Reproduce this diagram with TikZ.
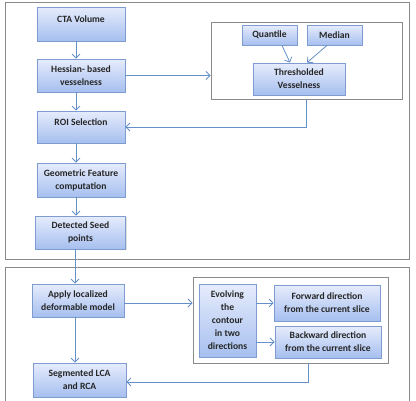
\documentclass[tikz,border=0pt]{standalone}
\usepackage{fontspec}
\setmainfont{Carlito}
\usetikzlibrary{arrows.meta,shadows}
\definecolor{boxtop}{HTML}{E6ECFC}
\definecolor{boxbot}{HTML}{A6BFEF}
\definecolor{boxline}{HTML}{7E9CCF}
\definecolor{arrcol}{HTML}{6690C8}
\definecolor{framecol}{HTML}{8A8A8A}
\tikzset{
  box/.style={draw=boxline, line width=0.8pt, top color=boxtop, bottom color=boxbot,
    font=\fontsize{9.6}{13}\selectfont\bfseries, text=black!85, align=center,
    inner sep=0pt, drop shadow={shadow xshift=1pt, shadow yshift=-1pt, opacity=0.25}},
  upper/.style={text depth=10pt},
  frame/.style={draw=framecol, line width=0.9pt, fill=white, inner sep=0pt,
    drop shadow={shadow xshift=1.2pt, shadow yshift=-1.2pt, opacity=0.3}},
  outer/.style={draw=framecol, line width=0.9pt, inner sep=0pt},
  arr/.style={draw=arrcol, line width=0.8pt, -{Straight Barb[length=4pt,width=8pt]}},
  ln/.style={draw=arrcol, line width=0.8pt}
}
\begin{document}
\begin{tikzpicture}[x=1pt,y=-1pt]
\useasboundingbox (0,0) rectangle (416,400);
% outer frames
\node[outer, minimum width=404, minimum height=257] (top) at (207,130.5) {};
\node[outer, minimum width=404, minimum height=135] (bot) at (207,334.5) {};
% inner frames
\node[frame, minimum width=191, minimum height=77] (tf) at (306.5,60.5) {};
\node[frame, minimum width=195, minimum height=86] (bf) at (290.5,320) {};
% main column
\node[box, upper, minimum width=88, minimum height=34] (cta) at (81,24) {CTA Volume};
\node[box, minimum width=88, minimum height=33] (hess) at (81,75.5) {Hessian- based\\vesselness};
\node[box, upper, minimum width=88, minimum height=32] (roi) at (81,127) {ROI Selection};
\node[box, minimum width=88, minimum height=34] (geo) at (81,180) {Geometric Feature\\computation};
\node[box, minimum width=90, minimum height=33] (seed) at (80.5,232.5) {Detected Seed\\points};
\node[box, minimum width=92, minimum height=33] (apply) at (78,300.5) {Apply localized\\deformable model};
\node[box, minimum width=93, minimum height=34] (seg) at (79.5,380) {Segmented LCA\\and RCA};
% top inner
\node[box, minimum width=55, minimum height=20] (quant) at (269.5,35) {Quantile};
\node[box, minimum width=55, minimum height=20] (med) at (334.5,35) {Median};
\node[box, minimum width=92, minimum height=32] (thr) at (299,79) {Thresholded\\Vesselness};
% bottom inner
\node[box, minimum width=57, minimum height=73] (evo) at (227.5,320.5) {Evolving\\the\\contour\\in two\\directions};
\node[box, minimum width=106, minimum height=36] (fwd) at (327,303) {Forward direction\\from the current slice};
\node[box, minimum width=106, minimum height=32] (bwd) at (328,342) {Backward direction\\from the current slice};
% connectors
\draw[arr] ([xshift=-5pt]cta.south) -- ([xshift=-5pt]hess.north);
\draw[arr] ([xshift=-5pt]hess.south) -- ([xshift=-5pt]roi.north);
\draw[arr] ([xshift=-5pt]roi.south) -- ([xshift=-5pt]geo.north);
\draw[arr] ([xshift=-5pt]geo.south) -- ([xshift=-5pt]seed.north -| geo.south);
\draw[arr] ([xshift=-5.5pt]seed.south) -- ([xshift=-3pt]apply.north);
\draw[arr] ([xshift=-3pt]apply.south) -- ([xshift=-3pt]apply.south |- seg.north);
\draw[arr] (hess.east) -- (hess.east -| tf.west);
\draw[arr] ([xshift=12.5pt]quant.south) -- ([xshift=-9pt]thr.north);
\draw[arr] ([xshift=-7.5pt]med.south) -- ([xshift=8pt]thr.north);
\draw[arr] (tf.south) |- (roi.east);
\draw[arr] ([yshift=-2.5pt]apply.east) -- ([yshift=-2.5pt]apply.east -| bf.west);
\draw[arr] (evo.east |- fwd.west) -- (fwd.west);
\draw[arr] (evo.east |- bwd.west) -- (bwd.west);
\draw[arr] ([xshift=17.5pt]bf.south) |- ([yshift=-2pt]seg.east);
\end{tikzpicture}
\end{document}
